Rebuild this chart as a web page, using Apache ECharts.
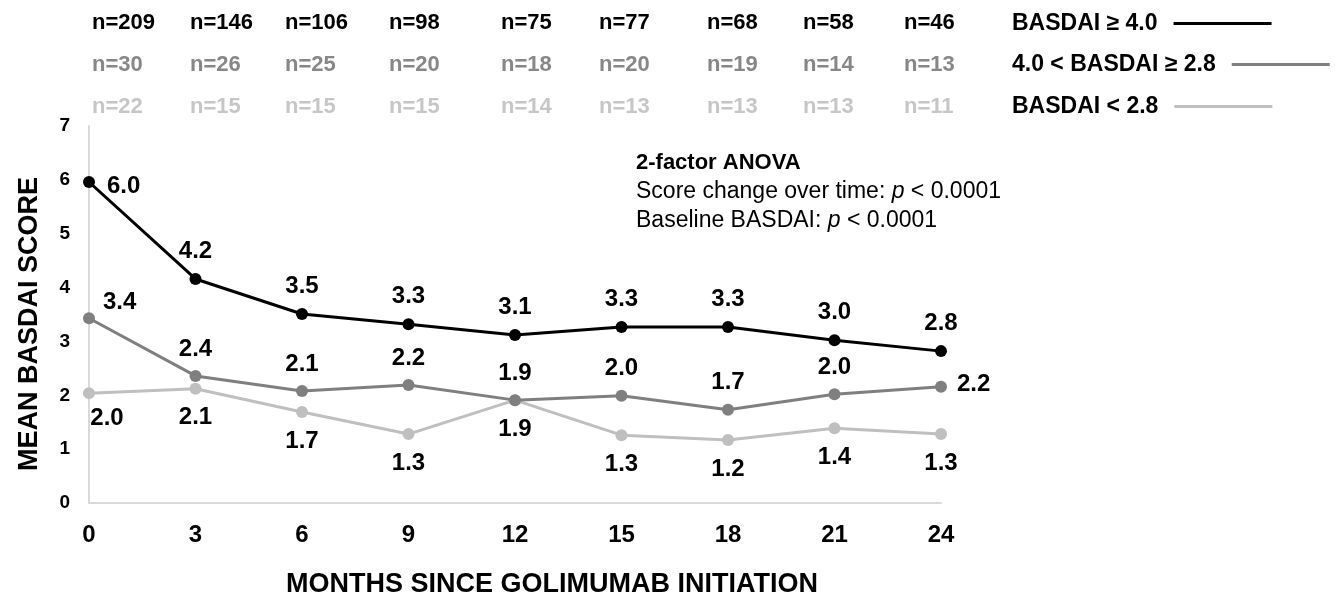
<!DOCTYPE html>
<html>
<head>
<meta charset="utf-8">
<script src="https://cdn.jsdelivr.net/npm/echarts@6/dist/echarts.min.js"></script>
<style>
html,body{margin:0;padding:0;background:#fff;}
#chart{width:1335px;height:603px;}
</style>
</head>
<body>
<div id="chart"></div>
<script>
// ---- data ----
const months = ['0', '3', '6', '9', '12', '15', '18', '21', '24'];
const seriesNames = ['BASDAI \u2265 4.0', '4.0 < BASDAI \u2265 2.8', 'BASDAI < 2.8'];
const highScore = [5.96, 4.16, 3.51, 3.32, 3.12, 3.27, 3.27, 3.02, 2.82];
const midScore  = [3.43, 2.36, 2.08, 2.19, 1.91, 1.99, 1.73, 2.02, 2.16];
const lowScore  = [2.04, 2.12, 1.69, 1.28, 1.91, 1.26, 1.17, 1.39, 1.28];
const highN = [209, 146, 106, 98, 75, 77, 68, 58, 46];
const midN  = [30, 26, 25, 20, 18, 20, 19, 14, 13];
const lowN  = [22, 15, 15, 15, 14, 13, 13, 13, 11];
const yTicks = [0, 1, 2, 3, 4, 5, 6, 7];
const annotationLines = ['2-factor ANOVA', 'Score change over time: ', 'Baseline BASDAI: '];

// ---- styles / layout ----
const FONT = '"Liberation Sans", Arial, Helvetica, sans-serif';
const colors = ['#000000', '#7f7f7f', '#bfbfbf'];
const nColors = ['#000000', '#878787', '#c6c6c6'];
const nX = [92, 190, 285, 389, 501, 599, 707, 803, 904];
const nRowY = [23, 65, 107];
const legendTops = [6, 47, 89];

const labelOverrides = [
  { 0: { position: 'right', distance: 12, offset: [0, 4] } },
  { 0: { position: 'right', distance: 8, offset: [0, -16] }, 8: { position: 'right', distance: 10, offset: [0, -2] } },
  { 0: { position: 'bottom', offset: [18, -4] } }
];
const defaultLabelPos = [
  { position: 'top', distance: 10 },
  { position: 'top', distance: 9 },
  { position: 'bottom', distance: 11 }
];

function buildData(values, idx) {
  return values.map((v, i) => {
    const item = { value: v };
    if (labelOverrides[idx][i]) item.label = labelOverrides[idx][i];
    return item;
  });
}

const allScores = [highScore, midScore, lowScore];
const series = allScores.map((vals, idx) => ({
  name: seriesNames[idx],
  type: 'line',
  data: buildData(vals, idx),
  symbol: 'circle',
  symbolSize: 12,
  z: 10 - idx,
  lineStyle: { color: colors[idx], width: 3 },
  itemStyle: { color: colors[idx] },
  label: Object.assign({
    show: true,
    color: '#000',
    fontFamily: FONT,
    fontWeight: 'bold',
    fontSize: 24,
    formatter: p => Number(p.value).toFixed(1)
  }, defaultLabelPos[idx]),
  emphasis: { disabled: true },
  animation: false
}));

const legends = seriesNames.map((name, idx) => ({
  orient: 'horizontal', left: 1007, top: legendTops[idx], align: 'right',
  icon: 'rect', itemWidth: 98, itemHeight: 3,
  selectedMode: false,
  data: [name],
  textStyle: { fontFamily: FONT, fontWeight: 'bold', fontSize: 23, color: '#000', lineHeight: 25, padding: [0, 11, 0, 0] }
}));

const graphics = [];
[highN, midN, lowN].forEach((row, r) => {
  row.forEach((n, i) => {
    graphics.push({
      type: 'text', x: nX[i], y: nRowY[r], silent: true,
      style: { text: 'n=' + n, fill: nColors[r], fontFamily: FONT, fontWeight: 'bold', fontSize: 22, align: 'left', verticalAlign: 'middle' }
    });
  });
});
graphics.push({
  type: 'text', x: 636, y: 148, silent: true,
  style: {
    text: '{b|' + annotationLines[0] + '}\n{r|' + annotationLines[1] + '}{i|p}{r| < 0.0001}\n{r|' + annotationLines[2] + '}{i|p}{r| < 0.0001}',
    fill: '#000', fontFamily: FONT, fontSize: 23, align: 'left', verticalAlign: 'top',
    rich: {
      b: { fontFamily: FONT, fontSize: 22, fontWeight: 'bold', lineHeight: 29, fill: '#000' },
      r: { fontFamily: FONT, fontSize: 23, lineHeight: 29, fill: '#000' },
      i: { fontFamily: FONT, fontSize: 23, fontStyle: 'italic', lineHeight: 29, fill: '#000' }
    }
  }
});
graphics.push({
  type: 'text', x: 30, y: 324, rotation: Math.PI / 2, silent: true,
  style: { text: 'MEAN BASDAI SCORE', fill: '#000', fontFamily: FONT, fontWeight: 'bold', fontSize: 27, align: 'center', verticalAlign: 'middle' }
});
graphics.push({
  type: 'text', x: 552, y: 585, silent: true,
  style: { text: 'MONTHS SINCE GOLIMUMAB INITIATION', fill: '#000', fontFamily: FONT, fontWeight: 'bold', fontSize: 27, align: 'center', verticalAlign: 'middle' }
});

const chart = echarts.init(document.getElementById('chart'), null, { renderer: 'canvas' });
chart.setOption({
  backgroundColor: '#ffffff',
  animation: false,
  textStyle: { fontFamily: FONT },
  grid: { left: 89, right: 394, top: 126, bottom: 100, containLabel: false },
  legend: legends,
  xAxis: {
    type: 'category', data: months, boundaryGap: false,
    axisLine: { lineStyle: { color: '#d9d9d9', width: 2 } },
    axisTick: { show: false },
    splitLine: { show: false },
    axisLabel: { color: '#000', fontFamily: FONT, fontWeight: 'bold', fontSize: 24, margin: 20 }
  },
  yAxis: {
    type: 'value', min: yTicks[0], max: yTicks[yTicks.length - 1], interval: 1,
    axisLine: { show: true, lineStyle: { color: '#d9d9d9', width: 2 } },
    axisTick: { show: false },
    splitLine: { show: false },
    axisLabel: { color: '#000', fontFamily: FONT, fontWeight: 'bold', fontSize: 19, margin: 19 }
  },
  graphic: graphics,
  series: series
});
</script>
</body>
</html>
